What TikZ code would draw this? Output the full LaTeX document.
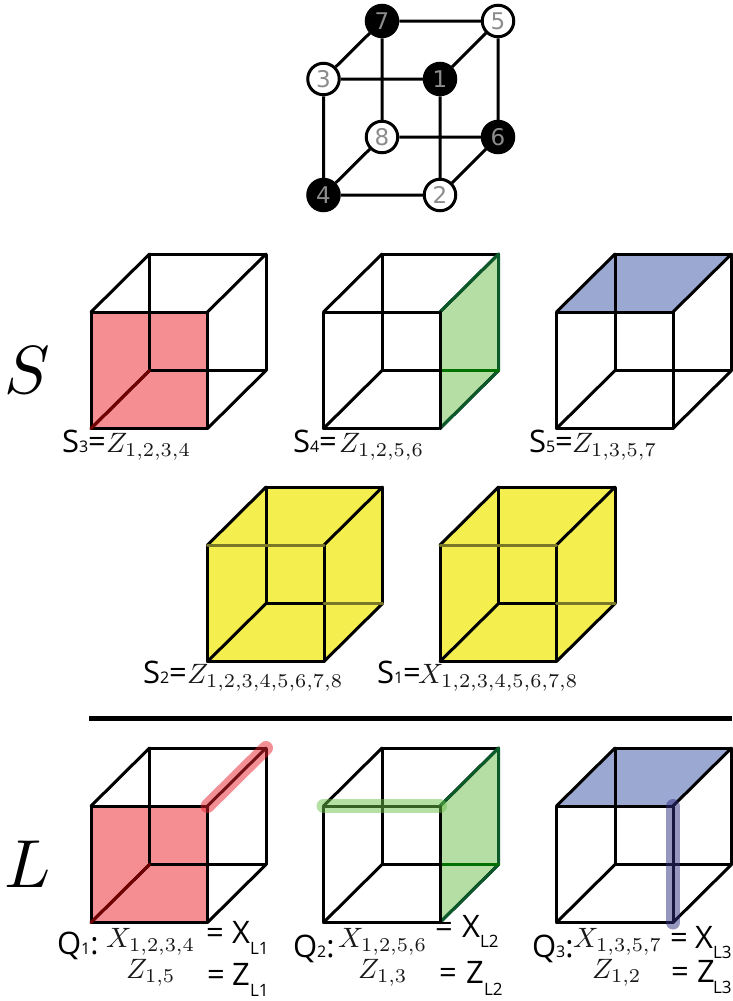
\documentclass[tikz,border=0pt]{standalone}
\usepackage[no-math]{fontspec}
\setmainfont{Open Sans}
\newfontfamily\numfont{DejaVu Sans}
\definecolor{facered}{HTML}{F58E92}
\definecolor{facegreen}{HTML}{B4DEA4}
\definecolor{faceblue}{HTML}{9BA8D2}
\definecolor{faceyellow}{HTML}{F4EF4F}
\definecolor{hlred}{HTML}{E4202C}
\definecolor{hlgreen}{HTML}{6CC24A}
\definecolor{hlblue}{HTML}{2E2F7F}
\definecolor{darkgreen}{HTML}{0B5A2A}
\tikzset{
  x=1pt,y=-1pt,
  edge/.style={line width=3pt,black,line cap=round,line join=round},
  vertex/.style={circle,draw=black,line width=3pt,minimum size=31.5pt,inner sep=0pt,font=\numfont\fontsize{23}{23}\selectfont,text=black!45},
  wv/.style={vertex,fill=white},
  bv/.style={vertex,fill=black},
  hl/.style={line width=14pt,line cap=round,opacity=.5},
  txt/.style={anchor=base west,inner sep=0pt,outer sep=0pt,font=\fontsize{31}{31}\selectfont},
  mth/.style={anchor=base west,inner sep=0pt,outer sep=0pt,text=black!90,transform shape,scale=2.8},
  sb/.style={anchor=base west,inner sep=0pt,outer sep=0pt,font=\fontsize{17}{17}\selectfont},
  big/.style={anchor=base west,inner sep=0pt,outer sep=0pt,transform shape,scale=6.8},
}
\newcommand{\cubecoords}[3]{%
  \coordinate (#1fa) at (#2,#3);
  \coordinate (#1fb) at (#2+116.5,#3);
  \coordinate (#1fc) at (#2+116.5,#3+116.5);
  \coordinate (#1fd) at (#2,#3+116.5);
  \coordinate (#1ba) at (#2+58.5,#3-58);
  \coordinate (#1bb) at (#2+175,#3-58);
  \coordinate (#1bc) at (#2+175,#3+58.5);
  \coordinate (#1bd) at (#2+58.5,#3+58.5);
}
\newcommand{\cubelines}[1]{%
  \draw[edge] (#1fa) -- (#1fb) -- (#1fc) -- (#1fd) -- cycle;
  \draw[edge] (#1ba) -- (#1bb) -- (#1bc) -- (#1bd) -- cycle;
  \draw[edge] (#1fa) -- (#1ba) (#1fb) -- (#1bb) (#1fc) -- (#1bc) (#1fd) -- (#1bd);
}
\newcommand{\facefront}[2]{\fill[#2] (#1fa) -- (#1fb) -- (#1fc) -- (#1fd) -- cycle;}
\newcommand{\faceright}[2]{\fill[#2] (#1fb) -- (#1bb) -- (#1bc) -- (#1fc) -- cycle;}
\newcommand{\facetop}[2]{\fill[#2] (#1fa) -- (#1ba) -- (#1bb) -- (#1fb) -- cycle;}
\newcommand{\facehex}[2]{\fill[#2] (#1fa) -- (#1ba) -- (#1bb) -- (#1bc) -- (#1fc) -- (#1fd) -- cycle;}
\newcommand{\redcube}[1]{%
  \facefront{#1}{facered}\cubelines{#1}
  \draw[edge,color=red!45!black] (#1fd) -- (#1bd);
}
\newcommand{\greencube}[1]{%
  \faceright{#1}{facegreen}\cubelines{#1}
  \draw[edge,color=darkgreen] (#1fb) -- (#1bb) -- (#1bc) -- (#1fc);
  \draw[edge,color=black!20!green!55!black] (#1fc |- #1bc) -- (#1bc);
  \draw[edge] (#1fb) -- (#1fc);
}
\newcommand{\bluecube}[1]{\facetop{#1}{faceblue}\cubelines{#1}}
\newcommand{\yellowcube}[1]{%
  \facehex{#1}{faceyellow}\cubelines{#1}
  \draw[edge,color=black!50!faceyellow] (#1fa) -- (#1fb);
  \draw[edge,color=black!50!faceyellow] (#1fc |- #1bc) -- (#1bc);
}
\begin{document}
\begin{tikzpicture}
\useasboundingbox (0,0) rectangle (732,1001);
% top cube
\node[bv] (n7) at (382,21) {7};
\node[wv] (n5) at (498,21) {5};
\node[wv] (n3) at (323.5,79) {3};
\node[bv] (n1) at (440,79) {1};
\node[wv] (n8) at (382,137) {8};
\node[bv] (n6) at (498,137) {6};
\node[bv] (n4) at (323.5,195) {4};
\node[wv] (n2) at (440,195) {2};
\draw[edge,line cap=butt] (n7)--(n5) (n3)--(n1) (n8)--(n6) (n4)--(n2)
  (n7)--(n3) (n5)--(n1) (n8)--(n4) (n6)--(n2)
  (n7)--(n8) (n5)--(n6) (n3)--(n4) (n1)--(n2);
% S row
\cubecoords{a}{91}{312}\redcube{a}
\cubecoords{b}{323.5}{312}\greencube{b}
\cubecoords{c}{556.5}{312}\bluecube{c}
% yellow row
\cubecoords{d}{207.5}{545}\yellowcube{d}
\cubecoords{e}{440}{545}\yellowcube{e}
% L row
\cubecoords{f}{91}{806}\redcube{f}
\cubecoords{g}{323.5}{806}\greencube{g}
\cubecoords{h}{556.5}{806}\bluecube{h}
\draw[hl,color=hlred] (fbb) -- (ffb);
\draw[hl,color=hlgreen] (gfa) -- (gfb);
\draw[hl,color=hlblue] (hfb) -- (hfc);
% divider
\coordinate (dl) at (89,718);
\coordinate (dr) at (732,718);
\draw[line width=5pt,black] (dl) -- (dr);
% big letters
\node[big] (bigS) at (5,393) {$S$};
\node[big] (bigL) at (5,887) {$L$};
% stabilizer labels
\node[txt] (s3) at (62,452) {S{\fontsize{16}{16}\selectfont 3}=};
\node[mth] (s3m) at (106,452) {$Z_{1,2,3,4}$};
\node[txt] (s4) at (293,452) {S{\fontsize{16}{16}\selectfont 4}=};
\node[mth] (s4m) at (339,452) {$Z_{1,2,5,6}$};
\node[txt] (s5) at (529,452) {S{\fontsize{16}{16}\selectfont 5}=};
\node[mth] (s5m) at (572,452) {$Z_{1,3,5,7}$};
\node[txt] (s2) at (143,683) {S{\fontsize{16}{16}\selectfont 2}=};
\node[mth] (s2m) at (187,683) {$Z_{1,2,3,4,5,6,7,8}$};
\node[txt] (s1) at (377,683) {S{\fontsize{16}{16}\selectfont 1}=};
\node[mth] (s1m) at (418,683) {$X_{1,2,3,4,5,6,7,8}$};
% logical labels
\node[txt] (q1) at (57,954) {Q{\fontsize{16}{16}\selectfont 1}:};
\node[mth] (q1x) at (106,947) {$X_{1,2,3,4}$};
\node[mth] (q1z) at (126,978) {$Z_{1,5}$};
\node[txt] (e1x) at (206,943) {=};
\node[txt] (x1) at (232,943) {X};
\node[sb] (x1s) at (250,954) {L1};
\node[txt] (e1z) at (207,985) {=};
\node[txt] (z1) at (232,985) {Z};
\node[sb] (z1s) at (250,996) {L1};
\node[txt] (q2) at (293,957) {Q{\fontsize{16}{16}\selectfont 2}:};
\node[mth] (q2x) at (338,947) {$X_{1,2,5,6}$};
\node[mth] (q2z) at (358,978) {$Z_{1,3}$};
\node[txt] (e2x) at (435,937) {=};
\node[txt] (x2) at (462,937) {X};
\node[sb] (x2s) at (480,947) {L2};
\node[txt] (e2z) at (439,983) {=};
\node[txt] (z2) at (466,983) {Z};
\node[sb] (z2s) at (484,995) {L2};
\node[txt] (q3) at (532,957) {Q{\fontsize{16}{16}\selectfont 3}:};
\node[mth] (q3x) at (573,947) {$X_{1,3,5,7}$};
\node[mth] (q3z) at (592,978) {$Z_{1,2}$};
\node[txt] (e3x) at (670,948) {=};
\node[txt] (x3) at (695,948) {X};
\node[sb] (x3s) at (713,958) {L3};
\node[txt] (e3z) at (671,982) {=};
\node[txt] (z3) at (697,982) {Z};
\node[sb] (z3s) at (713,993) {L3};
\end{tikzpicture}
\end{document}
